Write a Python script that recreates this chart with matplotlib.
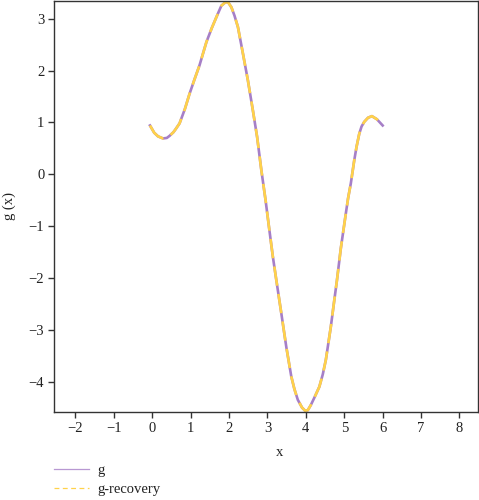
import matplotlib
matplotlib.use("Agg")
import matplotlib.pyplot as plt
from matplotlib.lines import Line2D

# valores
x_vals = [-0.06, 0.05, 0.15, 0.28, 0.38, 0.45, 0.55, 0.60, 0.71, 0.85, 0.97, 1.10,
          1.23, 1.41, 1.55, 1.67, 1.74, 1.80, 1.91, 1.98, 2.06, 2.14, 2.23, 2.36,
          2.49, 2.62, 2.73, 2.84, 2.95, 3.05, 3.14, 3.23, 3.36, 3.49, 3.62, 3.70,
          3.79, 3.90, 3.98, 4.05, 4.13, 4.22, 4.35, 4.44, 4.52, 4.65, 4.74, 4.81,
          4.91, 5.04, 5.10, 5.17, 5.26, 5.32, 5.39, 5.45, 5.52, 5.62, 5.72, 5.85, 6.00]
g_vals = [0.94, 0.80, 0.73, 0.69, 0.70, 0.74, 0.81, 0.86, 0.98, 1.26, 1.55, 1.83,
          2.10, 2.55, 2.82, 3.03, 3.15, 3.25, 3.32, 3.31, 3.22, 3.06, 2.84, 2.33,
          1.81, 1.23, 0.72, 0.08, -0.50, -1.08, -1.59, -2.04, -2.68, -3.33, -3.90, -4.14,
          -4.35, -4.50, -4.56, -4.55, -4.45, -4.31, -4.10, -3.86, -3.58, -2.94, -2.43, -2.04,
          -1.43, -0.76, -0.46, -0.18, 0.27, 0.53, 0.78, 0.92, 1.01, 1.09, 1.12, 1.06, 0.94]
g_rec_vals = list(g_vals)

x_ticks = [-2, -1, 0, 1, 2, 3, 4, 5, 6, 7, 8]
y_ticks = [-4, -3, -2, -1, 0, 1, 2, 3]

PURPLE = "#a67fc7"
YELLOW = "#ffd24a"

plt.rcParams["font.family"] = ["Liberation Serif", "DejaVu Serif"]
plt.rcParams["lines.scale_dashes"] = False

fig = plt.figure(figsize=(4.79, 5.0), dpi=100)
ax = fig.add_axes([0.1127, 0.176, 0.885, 0.823])

ax.plot(x_vals, g_vals, color=PURPLE, lw=1.9, solid_joinstyle="round")
ax.plot(x_vals, g_rec_vals, color=YELLOW, lw=1.9, dashes=(14, 6),
        dash_joinstyle="round")

ax.set_xlim(-2.56, 8.48)
ax.set_ylim(-4.585, 3.35)
ax.set_xticks(x_ticks)
ax.set_yticks(y_ticks)
ax.set_xticklabels([str(t).replace("-", "\u2212") for t in x_ticks])
ax.set_yticklabels([str(t).replace("-", "\u2212") for t in y_ticks])

for s in ax.spines.values():
    s.set_color("#333333")
    s.set_linewidth(1.0)
ax.tick_params(direction="out", length=4, width=1, colors="#333333",
               labelsize=10.5, labelcolor="#222222", pad=3)

ax.set_xlabel("x", fontsize=10.5, color="#222222")
ax.xaxis.set_label_coords(0.533, -0.082)
ax.set_ylabel("g (x)", fontsize=10.5, color="#222222")
ax.yaxis.set_label_coords(-0.09, 0.5)

handles = [
    Line2D([], [], color=PURPLE, lw=0.9, alpha=0.8),
    Line2D([], [], color=YELLOW, lw=0.9, dashes=(3.5, 2.5)),
]
ax.legend(handles, ["g", "g-recovery"], loc="upper left",
          bbox_to_anchor=(0.0, -0.125), frameon=False, fontsize=10.5,
          handlelength=2.4, handletextpad=0.6, borderpad=0, borderaxespad=0,
          labelspacing=0.45, labelcolor="#222222")

fig.savefig("out.png", dpi=100)
